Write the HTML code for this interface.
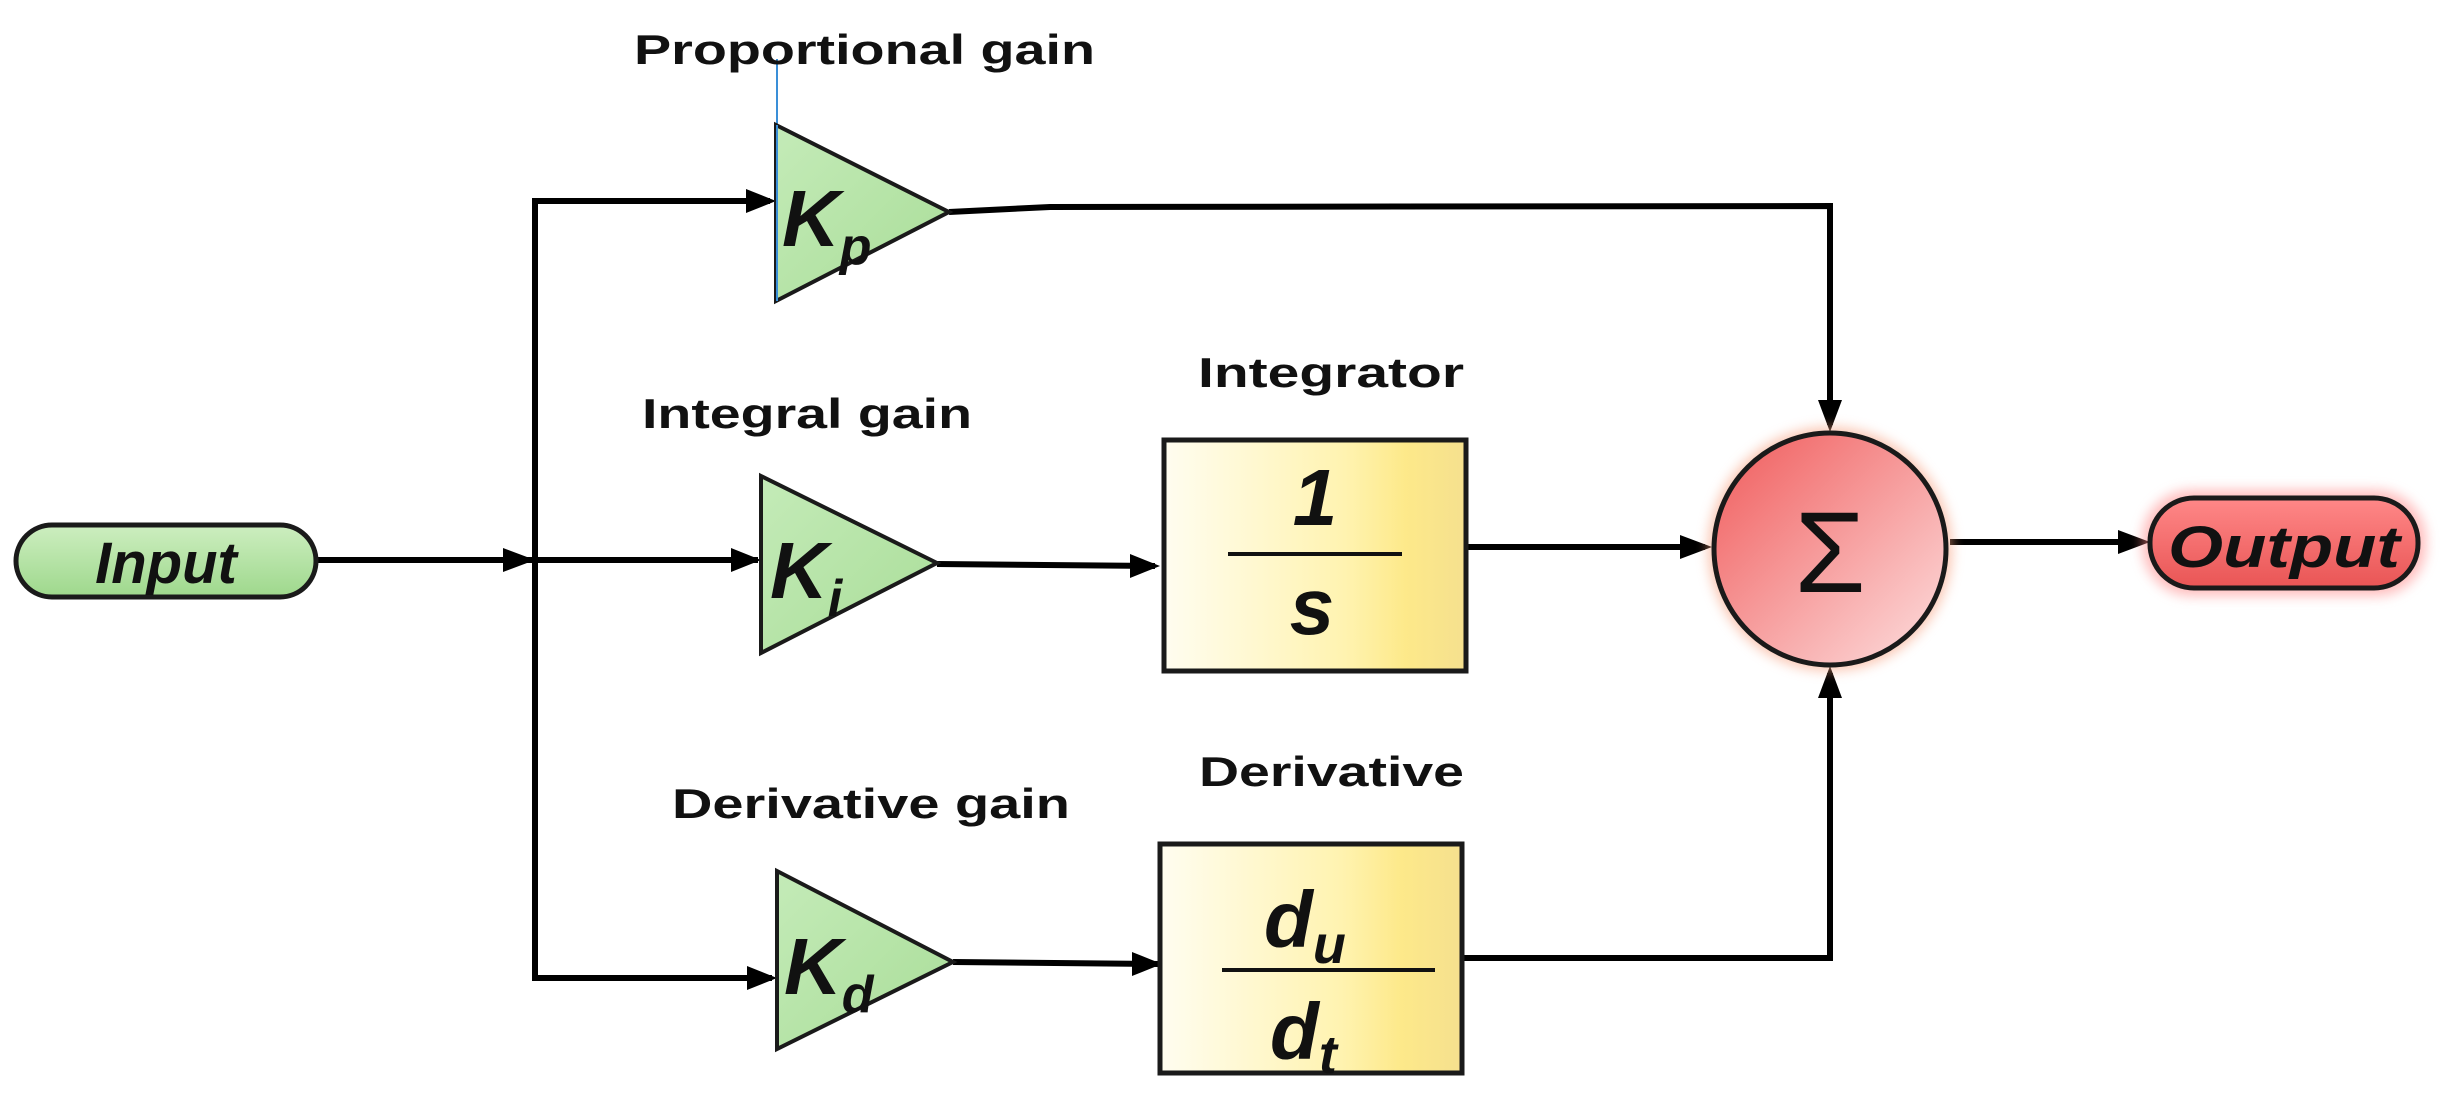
<!DOCTYPE html>
<html><head><meta charset="utf-8"><style>
html,body{margin:0;padding:0;background:#fff;}
svg{display:block;}
text{font-family:"Liberation Sans",sans-serif;}
</style></head><body>
<svg width="2449" height="1093" viewBox="0 0 2449 1093" xmlns="http://www.w3.org/2000/svg">
<defs>
<linearGradient id="grn" x1="0" y1="0" x2="0" y2="1"><stop offset="0" stop-color="#cdeec0"/><stop offset="1" stop-color="#9ed88c"/></linearGradient>
<linearGradient id="tri" x1="0" y1="0" x2="1" y2="1"><stop offset="0" stop-color="#c4ebb8"/><stop offset="1" stop-color="#a9dd98"/></linearGradient>
<linearGradient id="yel" x1="0" y1="0" x2="1" y2="0"><stop offset="0" stop-color="#fffdf0"/><stop offset="0.6" stop-color="#fff3b0"/><stop offset="0.8" stop-color="#fde98a"/><stop offset="1" stop-color="#f5e08e"/></linearGradient>
<linearGradient id="red" x1="0" y1="0" x2="1" y2="1"><stop offset="0" stop-color="#f05a5a"/><stop offset="1" stop-color="#fde0e0"/></linearGradient>
<linearGradient id="red2" x1="0" y1="0" x2="0" y2="1"><stop offset="0" stop-color="#f88"/><stop offset="1" stop-color="#e95555"/></linearGradient>
<filter id="glow" x="-20%" y="-20%" width="140%" height="140%"><feGaussianBlur stdDeviation="6"/></filter>
</defs>

<g stroke="#000" stroke-width="6" fill="none">
<line x1="318" y1="560" x2="535" y2="560"/>
<polyline points="770,201 535,201 535,978 772,978"/>
<line x1="535" y1="560" x2="758" y2="560"/>
<line x1="937" y1="564" x2="1155" y2="566"/>
<line x1="953" y1="962" x2="1158" y2="964"/>
<polyline points="949,212 1050,207 1830,206 1830,425"/>
<line x1="1466" y1="547" x2="1705" y2="547"/>
<polyline points="1462,958 1830,958 1830,673"/>
<line x1="1950" y1="542" x2="2142" y2="542"/>
</g>
<g fill="#000">
<polygon points="535,560 503,548 503,572"/>
<polygon points="776,201 746,189 746,213"/>
<polygon points="761,560 731,548 731,572"/>
<polygon points="777,978 747,966 747,990"/>
<polygon points="1160,566 1130,554 1130,578"/>
<polygon points="1162,964 1132,952 1132,976"/>
<polygon points="1830,432 1818,400 1842,400"/>
<polygon points="1712,547 1680,535 1680,559"/>
<polygon points="1830,666 1818,698 1842,698"/>
<polygon points="2150,542 2118,530 2118,554"/>
</g>

<rect x="16" y="525" width="300" height="72" rx="36" fill="url(#grn)" stroke="#1a1a1a" stroke-width="5"/>
<text x="166" y="583" text-anchor="middle" font-size="58" font-weight="bold" font-style="italic" fill="#111">Input</text>

<line x1="777" y1="59" x2="777" y2="125" stroke="#3a8fd8" stroke-width="2"/>
<polygon points="776,125 949,212 776,301" fill="url(#tri)" stroke="#1a1a1a" stroke-width="4"/>
<line x1="777" y1="125" x2="777" y2="301" stroke="#3a8fd8" stroke-width="2"/>
<polygon points="761,476 937,563 761,653" fill="url(#tri)" stroke="#1a1a1a" stroke-width="4"/>
<polygon points="777,871 953,962 777,1049" fill="url(#tri)" stroke="#1a1a1a" stroke-width="4"/>
<g font-weight="bold" font-style="italic" fill="#111">
<text x="782" y="246" font-size="80">K<tspan font-size="52" dy="18">p</tspan></text>
<text x="770" y="598" font-size="80">K<tspan font-size="52" dy="18">i</tspan></text>
<text x="784" y="994" font-size="80">K<tspan font-size="52" dy="18">d</tspan></text>
</g>

<g font-weight="bold" fill="#111" font-size="42">
<text x="634" y="64" textLength="461" lengthAdjust="spacingAndGlyphs">Proportional gain</text>
<text x="642" y="428" textLength="330" lengthAdjust="spacingAndGlyphs">Integral gain</text>
<text x="672" y="818" textLength="398" lengthAdjust="spacingAndGlyphs">Derivative gain</text>
<text x="1198" y="387" textLength="266" lengthAdjust="spacingAndGlyphs">Integrator</text>
<text x="1199" y="786" textLength="265" lengthAdjust="spacingAndGlyphs">Derivative</text>
</g>

<rect x="1164" y="440" width="302" height="231" fill="url(#yel)" stroke="#1a1a1a" stroke-width="5"/>
<line x1="1228" y1="554" x2="1402" y2="554" stroke="#111" stroke-width="4"/>
<g font-weight="bold" font-style="italic" fill="#111" text-anchor="middle">
<text x="1315" y="525" font-size="80">1</text>
<text x="1312" y="634" font-size="80">s</text>
</g>

<rect x="1160" y="844" width="302" height="229" fill="url(#yel)" stroke="#1a1a1a" stroke-width="5"/>
<line x1="1222" y1="970" x2="1435" y2="970" stroke="#111" stroke-width="4"/>
<g font-weight="bold" font-style="italic" fill="#111">
<text x="1264" y="947" font-size="80">d<tspan font-size="54" dy="16">u</tspan></text>
<text x="1270" y="1059" font-size="80">d<tspan font-size="54" dy="14">t</tspan></text>
</g>

<ellipse cx="1830" cy="549" rx="122" ry="122" fill="#f7a080" opacity="0.6" filter="url(#glow)"/>
<ellipse cx="1830" cy="549" rx="116" ry="116" fill="url(#red)" stroke="#1a1a1a" stroke-width="5"/>
<text x="1830" y="592" text-anchor="middle" font-size="115" fill="#111">Σ</text>

<rect x="2142" y="490" width="284" height="106" rx="50" fill="#f88" opacity="0.55" filter="url(#glow)"/>
<rect x="2150" y="498" width="268" height="90" rx="44" fill="url(#red2)" stroke="#1a1a1a" stroke-width="5"/>
<text x="2284" y="567" text-anchor="middle" font-size="58" font-weight="bold" font-style="italic" fill="#111" textLength="232" lengthAdjust="spacingAndGlyphs">Output</text>
</svg>
</body></html>
